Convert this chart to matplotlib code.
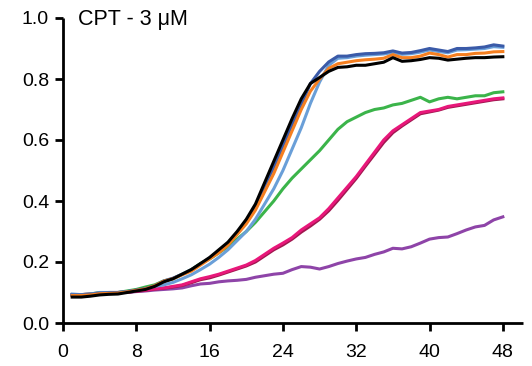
import matplotlib
matplotlib.use("Agg")
import matplotlib.pyplot as plt
import numpy as np

plt.rcParams['font.family'] = ['Liberation Sans', 'DejaVu Sans']

hours = list(range(1, 49))

dark_blue = [0.092, 0.092, 0.094, 0.098, 0.099, 0.1, 0.103, 0.108, 0.113, 0.122, 0.138, 0.147,
             0.16, 0.175, 0.193, 0.213, 0.235, 0.26, 0.293, 0.33, 0.38, 0.45, 0.51, 0.58,
             0.65, 0.715, 0.785, 0.825, 0.856, 0.875, 0.875, 0.88, 0.883, 0.884, 0.886, 0.892,
             0.885, 0.887, 0.893, 0.9, 0.895, 0.89, 0.9, 0.9, 0.902, 0.905, 0.912, 0.908]

light_blue = [0.095, 0.093, 0.095, 0.1, 0.1, 0.1, 0.103, 0.107, 0.112, 0.12, 0.125, 0.133,
              0.145, 0.158, 0.175, 0.193, 0.215, 0.24, 0.27, 0.3, 0.34, 0.39, 0.44, 0.5,
              0.57, 0.64, 0.72, 0.79, 0.845, 0.868, 0.87, 0.875, 0.878, 0.88, 0.882, 0.887,
              0.881, 0.883, 0.888, 0.895, 0.89, 0.886, 0.895, 0.896, 0.898, 0.9, 0.906, 0.904]

orange = [0.09, 0.09, 0.092, 0.096, 0.097, 0.098, 0.102, 0.107, 0.112, 0.122, 0.137, 0.145,
          0.158, 0.17, 0.19, 0.21, 0.23, 0.255, 0.29, 0.325, 0.37, 0.43, 0.49, 0.56,
          0.63, 0.7, 0.76, 0.8, 0.835, 0.85, 0.855, 0.86, 0.863, 0.865, 0.868, 0.88,
          0.87, 0.87, 0.875, 0.885, 0.88, 0.872, 0.88, 0.88, 0.884, 0.885, 0.889, 0.89]

black = [0.085, 0.085, 0.088, 0.092, 0.094, 0.095, 0.1, 0.105, 0.11, 0.12, 0.135, 0.145,
         0.16, 0.175, 0.195, 0.215, 0.24, 0.265, 0.3, 0.34, 0.39, 0.46, 0.53, 0.6,
         0.67, 0.735, 0.785, 0.805, 0.825, 0.838, 0.84, 0.845, 0.845, 0.85, 0.855, 0.87,
         0.858, 0.86, 0.864, 0.87, 0.868, 0.862, 0.865, 0.868, 0.87, 0.87, 0.872, 0.873]

green = [0.093, 0.093, 0.095, 0.1, 0.1, 0.1, 0.105, 0.11, 0.118, 0.125, 0.138, 0.145,
         0.16, 0.175, 0.195, 0.21, 0.23, 0.25, 0.275, 0.3, 0.33, 0.365, 0.4, 0.44,
         0.475, 0.505, 0.535, 0.565, 0.6, 0.635, 0.66, 0.675, 0.69, 0.7, 0.705, 0.715,
         0.72, 0.73, 0.74, 0.725, 0.735, 0.74, 0.735, 0.74, 0.745, 0.745, 0.755, 0.758]

crimson = [0.092, 0.092, 0.094, 0.097, 0.099, 0.099, 0.101, 0.104, 0.107, 0.111, 0.114, 0.118,
           0.123, 0.132, 0.142, 0.148, 0.157, 0.167, 0.177, 0.187, 0.2, 0.22, 0.24, 0.256,
           0.275, 0.298, 0.318, 0.34, 0.368, 0.402, 0.438, 0.474, 0.514, 0.553, 0.592, 0.624,
           0.646, 0.666, 0.686, 0.692, 0.698, 0.707, 0.712, 0.717, 0.722, 0.727, 0.732, 0.735]

pink = [0.093, 0.093, 0.095, 0.098, 0.1, 0.1, 0.102, 0.105, 0.108, 0.112, 0.115, 0.12,
        0.125, 0.135, 0.145, 0.152, 0.16, 0.17, 0.18, 0.19, 0.205, 0.225, 0.245, 0.262,
        0.28, 0.305, 0.325, 0.345, 0.375, 0.41, 0.445, 0.48, 0.52, 0.56, 0.6, 0.63,
        0.65, 0.67, 0.69, 0.695, 0.7, 0.71, 0.715, 0.72, 0.725, 0.73, 0.735, 0.738]

purple = [0.093, 0.093, 0.095, 0.098, 0.1, 0.1, 0.1, 0.103, 0.105, 0.108, 0.11, 0.112,
          0.115, 0.122, 0.128, 0.13, 0.135, 0.138, 0.14, 0.143, 0.15, 0.155, 0.16, 0.163,
          0.175, 0.185, 0.183, 0.177, 0.185, 0.195, 0.203, 0.21, 0.215, 0.225, 0.233, 0.245,
          0.243, 0.25, 0.262, 0.275, 0.28, 0.282, 0.293, 0.305, 0.315, 0.32, 0.338, 0.348]

series = [
    (purple, "#8e44a8"),
    (crimson, "#a0174f"),
    (pink, "#e8177a"),
    (green, "#3bb44a"),
    (light_blue, "#6a9fd8"),
    (dark_blue, "#3a5aa8"),
    (orange, "#f57f20"),
    (black, "#000000"),
]

x_ticks = [0, 8, 16, 24, 32, 40, 48]
y_ticks = [0.0, 0.2, 0.4, 0.6, 0.8, 1.0]
y_tick_labels = ["0.0", "0.2", "0.4", "0.6", "0.8", "1.0"]

fig = plt.figure(figsize=(5.32, 3.66), dpi=100)
ax = fig.add_axes([63 / 532, 43 / 366, 460 / 532, 305 / 366])

for values, color in series:
    ax.plot(hours, values, color=color, lw=2.2, solid_joinstyle="round")

ax.set_xlim(0, 50.2)
ax.set_ylim(0, 1.0)
ax.set_xticks(x_ticks)
ax.set_yticks(y_ticks)
ax.set_yticklabels(y_tick_labels)

for side in ("top", "right"):
    ax.spines[side].set_visible(False)
for side in ("left", "bottom"):
    ax.spines[side].set_linewidth(2.0)
    ax.spines[side].set_capstyle("butt")

ax.tick_params(axis="both", direction="out", length=6, width=2.0, labelsize=14)
ax.tick_params(axis="x", pad=9)
ax.tick_params(axis="y", pad=4)

fig.text(78 / 532, 1 - 19 / 366, "CPT - 3 μM", fontsize=15.5, ha="left", va="center")

fig.savefig("out.png", dpi=100)
